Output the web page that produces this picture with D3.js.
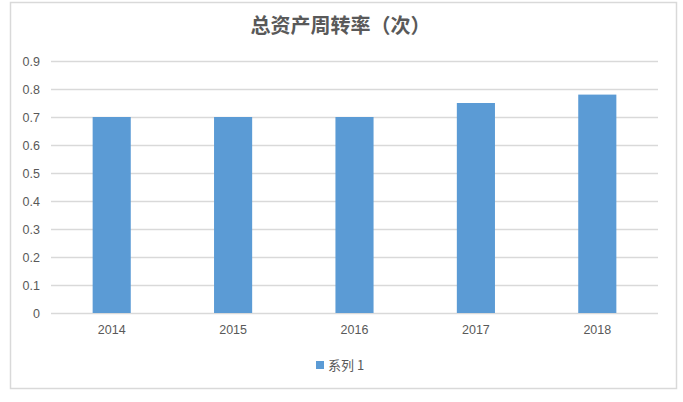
<!DOCTYPE html>
<html lang="zh">
<head>
<meta charset="UTF-8">
<title>总资产周转率（次）</title>
<script src="https://d3js.org/d3.v7.min.js"></script>
<style>
  body { margin: 0; background: #fff; }
  text { font-family: "Noto Sans CJK SC", "Liberation Sans", sans-serif; fill: #595959; }
</style>
</head>
<body>
<div id="chart"></div>
<script>
// data
const years = ["2014", "2015", "2016", "2017", "2018"];
const values = [0.7, 0.7, 0.7, 0.75, 0.78];
const yTicks = [0, 0.1, 0.2, 0.3, 0.4, 0.5, 0.6, 0.7, 0.8, 0.9];
const seriesName = "系列 1";
const chartTitle = "总资产周转率（次）";

const W = 683, H = 402;
const margin = {top: 61, right: 25, bottom: 89, left: 51};
const width = 658 - margin.left, height = 313 - margin.top;

const svg = d3.select("#chart").append("svg")
    .attr("width", W).attr("height", H);

// outer frame
svg.append("rect")
    .attr("x", 10.5).attr("y", 2.5)
    .attr("width", 666).attr("height", 386)
    .attr("fill", "#fff").attr("stroke", "#d9d9d9").attr("stroke-width", 1.5);

svg.append("text")
    .attr("x", W / 2 - 1).attr("y", 33)
    .attr("text-anchor", "middle")
    .style("font-size", "20px").style("font-weight", "bold")
    .text(chartTitle);

const g = svg.append("g").attr("transform", `translate(${margin.left},${margin.top})`);

const x = d3.scaleBand().domain(years).range([0, width]).paddingInner(0.686).paddingOuter(0.343);
const y = d3.scaleLinear().domain([0, 0.9]).range([height, 0]);

// grid + y labels
const yAxis = g.append("g")
    .call(d3.axisLeft(y).tickValues(yTicks).tickSize(-width).tickPadding(11)
        .tickFormat(d => d === 0 ? "0" : d3.format(".1f")(d)));
yAxis.select(".domain").remove();
yAxis.selectAll("line").attr("stroke", "#d9d9d9").attr("stroke-width", 1.5);
yAxis.selectAll("text").style("font-size", "12.5px").attr("fill", "#595959")
    .style("font-family", "'Liberation Sans', sans-serif");

// bars
g.selectAll("rect.bar").data(years).enter().append("rect")
    .attr("class", "bar")
    .attr("x", d => x(d))
    .attr("width", x.bandwidth())
    .attr("y", (d, i) => y(values[i]))
    .attr("height", (d, i) => height - y(values[i]))
    .attr("fill", "#5b9bd5");

// x labels
const xAxis = g.append("g").attr("transform", `translate(0,${height})`)
    .call(d3.axisBottom(x).tickSize(0).tickPadding(12));
xAxis.select(".domain").remove();
xAxis.selectAll("text").style("font-size", "12.5px").attr("fill", "#595959")
    .style("font-family", "'Liberation Sans', sans-serif");

// legend
const lg = svg.append("g").attr("transform", "translate(316,361)");
lg.append("rect").attr("width", 8).attr("height", 8).attr("fill", "#5b9bd5");
lg.append("text").attr("x", 12).attr("y", 8.5)
    .style("font-size", "13px").text(seriesName);
</script>
</body>
</html>
